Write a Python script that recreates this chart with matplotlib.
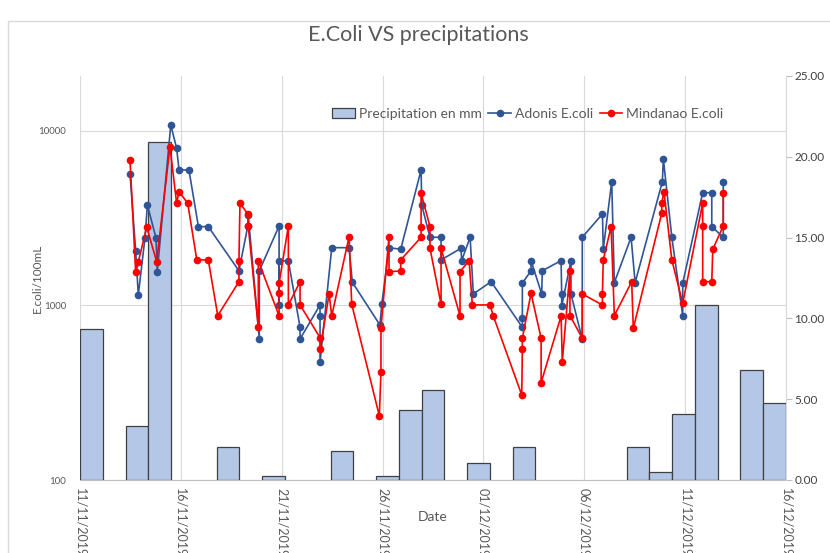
import numpy as np
import matplotlib
matplotlib.use("Agg")
import matplotlib.pyplot as plt
import matplotlib.dates as mdates
from matplotlib.patches import Rectangle
from matplotlib.ticker import FixedLocator, FuncFormatter
from datetime import datetime

plt.rcParams["font.family"] = ["Lato", "DejaVu Sans"]  # Calibri-like
GRAY = "#595959"

# precipitations (mm) per category (31 bars)
precip_mm = [9.34, 0, 3.34, 20.9, 0, 0, 2.06, 0, 0.27, 0, 0, 1.8, 0, 0.27, 4.33, 5.55,
             0, 1.03, 0, 2.06, 0, 0, 0, 0, 2.06, 0.52, 4.07, 10.83, 0, 6.8, 4.78]

# days since 11/11/2019 and E.coli/100mL
adonis_days = [2.48, 2.76, 2.89, 3.22, 3.34, 3.77, 3.83, 4.50, 4.79, 4.91, 5.40, 5.87, 6.36,
               7.88, 8.32, 8.34, 8.89, 8.89, 9.87, 9.87, 9.87, 10.33, 10.91, 10.91,
               11.90, 11.90, 11.90, 12.48, 13.34, 13.50, 14.87, 14.96, 15.32, 15.90,
               16.91, 16.94, 17.35, 17.90, 17.90, 18.89, 18.92, 19.34, 19.50, 20.38,
               21.93, 21.93, 21.93, 22.36, 22.36, 22.89, 22.92, 23.85, 23.88, 23.88,
               24.34, 24.34, 24.90, 24.90, 25.90, 25.94, 26.36, 26.49, 27.32, 27.52,
               28.87, 28.92, 29.34, 29.88, 29.88, 30.87, 31.32, 31.32, 31.89, 31.89]
adonis_ecoli = [5670, 2060, 1150, 2430, 3770, 2430, 1560, 10820, 7960, 5980, 5980, 2830, 2830,
                1580, 2855, 3300, 643, 1580, 2855, 1007, 1800, 1800, 750, 643,
                1007, 871, 472, 2144, 2144, 1358, 773, 1016, 2144, 2100,
                5980, 3770, 2460, 2460, 1824, 2127, 1806, 2460, 1164, 1369,
                750, 851, 1341, 1583, 1806, 1164, 1583, 1806, 1164, 993,
                1806, 1164, 640, 2460, 3344, 2100, 5120, 1351, 2460, 1351,
                5120, 6910, 2460, 875, 1341, 4430, 4430, 2830, 2460, 5120]

mindanao_days = [2.48, 2.76, 2.89, 3.31, 3.80, 4.46, 4.79, 4.91, 5.34, 5.79, 6.36, 6.83,
                 7.88, 7.88, 7.93, 8.32, 8.34, 8.84, 8.84, 9.87, 9.87, 9.87, 10.33, 10.33,
                 10.91, 10.91, 11.90, 11.90, 12.35, 12.48, 13.34, 13.47, 14.84, 14.92, 14.92,
                 15.32, 15.32, 15.90, 15.90, 16.91, 16.91, 16.91, 17.35, 17.35, 17.90, 17.90,
                 18.84, 18.84, 19.29, 19.45, 20.33, 20.49, 21.90, 21.93, 21.93, 22.36,
                 22.86, 22.86, 23.85, 23.91, 24.29, 24.29, 24.90, 24.90, 25.90, 25.90, 25.94,
                 26.33, 26.49, 27.35, 27.43, 28.84, 28.84, 28.95, 29.34, 29.88,
                 30.87, 30.87, 30.87, 31.32, 31.37, 31.89, 31.89]
mindanao_ecoli = [6820, 1549, 1782, 2808, 1782, 8130, 3855, 4490, 3855, 1824, 1824, 875,
                  1369, 1806, 3854, 3344, 2855, 750, 1806, 871, 1175, 1341, 2855, 1007,
                  1369, 1007, 654, 561, 1164, 871, 2479, 1016, 233, 414, 746,
                  2479, 1562, 1577, 1824, 2460, 2830, 4396, 2830, 2127, 1016, 2127,
                  871, 1562, 1806, 1007, 1007, 871, 307, 561, 649, 1175,
                  649, 361, 871, 476, 1583, 875, 649, 1164, 1007, 1164, 1824,
                  2830, 875, 1369, 740, 3376, 3855, 4490, 1824, 1030,
                  3855, 2855, 1369, 1369, 2099, 2855, 4430]

start = mdates.date2num(datetime(2019, 11, 11))
end = mdates.date2num(datetime(2019, 12, 16))

fig = plt.figure(figsize=(8.3, 5.53), dpi=100)
# chart border
fig.patches.append(Rectangle((8 / 830, -0.1), 1.2, 0.1 + (553 - 21) / 553, transform=fig.transFigure,
                             fill=False, edgecolor="#D9D9D9", linewidth=1))
rect = [80 / 830, (553 - 480) / 553, 706 / 830, 404 / 553]

# base axes: dates, log scale, grid
ax = fig.add_axes(rect, zorder=0)
ax.set_yscale("log")
ax.set_ylim(100, 20650)
ax.set_xlim(start, end)
ax.xaxis.set_major_locator(FixedLocator(np.arange(start, end + 1, 5)))
ax.xaxis.set_major_formatter(mdates.DateFormatter("%d/%m/%Y"))
ax.yaxis.set_major_locator(FixedLocator([100, 1000, 10000]))
ax.yaxis.set_major_formatter(FuncFormatter(lambda v, p: f"{v:.0f}"))
ax.yaxis.set_minor_locator(FixedLocator([]))
ax.grid(True, color="#D9D9D9", linewidth=0.8)
for s in ["top", "right", "left"]:
    ax.spines[s].set_visible(False)
ax.spines["bottom"].set_color("#BFBFBF")
ax.tick_params(axis="x", length=0, labelsize=9, labelcolor=GRAY, rotation=270, pad=6)
ax.tick_params(axis="y", length=0, labelsize=7, labelcolor=GRAY, pad=10)
for lab in ax.get_xticklabels():
    lab.set_va("top")
ax.set_xlabel("Date", fontsize=10, color=GRAY, va="center")
ax.xaxis.set_label_coords(0.5, -37 / 404)
ax.set_ylabel("E.coli/100mL", fontsize=8.5, color=GRAY, va="center")
ax.yaxis.set_label_coords(-43 / 706, 0.5)

# precipitation bars, secondary axis
axb = fig.add_axes(rect, zorder=1)
axb.patch.set_visible(False)
axb.set_xlim(-0.5, len(precip_mm) - 0.5)
axb.set_ylim(0, 25)
idx = [i for i, v in enumerate(precip_mm) if v > 0]
axb.bar(idx, [precip_mm[i] for i in idx], width=1.0, color="#B4C7E7",
        edgecolor="#404040", linewidth=0.9, label="Precipitation en mm")
axb.xaxis.set_visible(False)
axb.yaxis.tick_right()
axb.set_yticks(np.arange(0, 26, 5))
axb.yaxis.set_major_formatter(FuncFormatter(lambda v, p: f"{v:.2f}"))
axb.tick_params(axis="y", labelsize=8.5, labelcolor="#404040", length=4, color="#BFBFBF", pad=2)
for s in ["top", "left", "bottom"]:
    axb.spines[s].set_visible(False)
axb.spines["right"].set_color("#D9D9D9")

# E.coli lines on top
axl = fig.add_axes(rect, zorder=2, sharex=ax, sharey=ax)
axl.patch.set_visible(False)
axl.axis("off")
axl.plot(start + np.array(adonis_days), adonis_ecoli, "-o", color="#2F5597", lw=1.2, ms=4.5,
         label="Adonis E.coli")
axl.plot(start + np.array(mindanao_days), mindanao_ecoli, "-o", color="#FF0000", lw=1.2, ms=4.5,
         label="Mindanao E.coli")

handles = axb.get_legend_handles_labels()[0] + axl.get_legend_handles_labels()[0]
labels = ["Precipitation en mm", "Adonis E.coli", "Mindanao E.coli"]
fig.legend(handles, labels, loc="center", bbox_to_anchor=(528 / 830, (553 - 114) / 553), ncol=3,
           frameon=False, fontsize=10, labelcolor=GRAY, handlelength=1.6, handletextpad=0.3,
           columnspacing=0.5)

fig.text(418 / 830, (553 - 35) / 553, "E.Coli VS precipitations", ha="center", va="center",
         fontsize=15.5, color=GRAY)

fig.savefig("out.png", dpi=100)
